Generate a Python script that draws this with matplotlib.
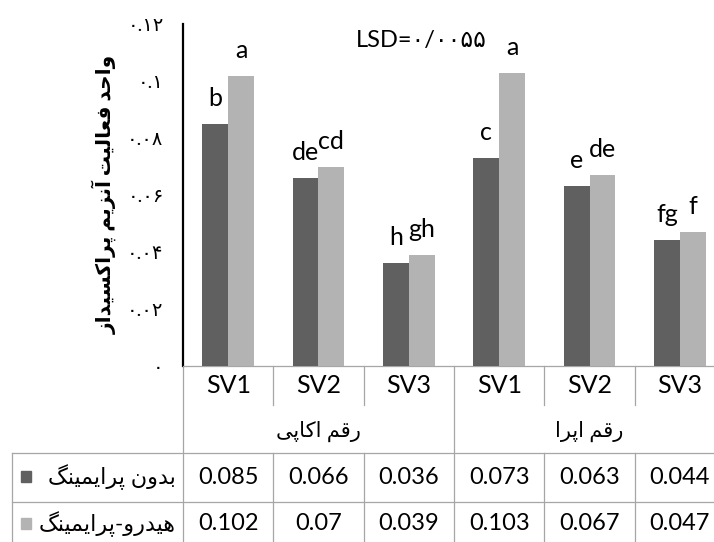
import numpy as np
import matplotlib.pyplot as plt

# values
sv_labels = ['SV1', 'SV2', 'SV3', 'SV1', 'SV2', 'SV3']
cultivars = ['رقم اکاپی', 'رقم اپرا']
series_names = ['بدون پرایمینگ', 'هیدرو-پرایمینگ']
no_priming = [0.085, 0.066, 0.036, 0.073, 0.063, 0.044]
hydro_priming = [0.102, 0.07, 0.039, 0.103, 0.067, 0.047]
letters_no = ['b', 'de', 'h', 'c', 'e', 'fg']
letters_hydro = ['a', 'cd', 'gh', 'a', 'de', 'f']
ytick_vals = [0, 0.02, 0.04, 0.06, 0.08, 0.1, 0.12]
ytick_labels = ['۰', '۰.۰۲', '۰.۰۴', '۰.۰۶', '۰.۰۸', '۰.۱', '۰.۱۲']
ylabel = 'واحد فعالیت آنزیم پراکسیداز'
lsd_text = 'LSD=۰/۰۰۵۵'

colors = ['#606060', '#b3b3b3']
grid_col = '#a6a6a6'

# matplotlib has no arabic shaping, so pick presentation forms by hand
FORMS = {
    'ا': '\ufe8d\ufe8e', 'آ': '\ufe81\ufe82', 'د': '\ufea9\ufeaa',
    'ر': '\ufead\ufeae', 'ز': '\ufeaf\ufeb0', 'و': '\ufeed\ufeee',
    'ب': '\ufe8f\ufe90\ufe91\ufe92', 'پ': '\ufb56\ufb57\ufb58\ufb59',
    'ت': '\ufe95\ufe96\ufe97\ufe98', 'ح': '\ufea1\ufea2\ufea3\ufea4',
    'س': '\ufeb1\ufeb2\ufeb3\ufeb4', 'ع': '\ufec9\ufeca\ufecb\ufecc',
    'ف': '\ufed1\ufed2\ufed3\ufed4', 'ق': '\ufed5\ufed6\ufed7\ufed8',
    'ک': '\ufb8e\ufb8f\ufb90\ufb91', 'گ': '\ufb92\ufb93\ufb94\ufb95',
    'ل': '\ufedd\ufede\ufedf\ufee0', 'م': '\ufee1\ufee2\ufee3\ufee4',
    'ن': '\ufee5\ufee6\ufee7\ufee8', 'ه': '\ufee9\ufeea\ufeeb\ufeec',
    'ی': '\ufbfc\ufbfd\ufbfe\ufbff',
}


def rtl(text):
    out = []
    for i, ch in enumerate(text):
        f = FORMS.get(ch)
        if f is None:
            out.append(ch)
            continue
        prev = text[i - 1] if i > 0 else ''
        nxt = text[i + 1] if i + 1 < len(text) else ''
        after = len(FORMS.get(prev, '')) == 4
        before = len(f) == 4 and nxt in FORMS
        if after and before:
            out.append(f[3])
        elif after:
            out.append(f[1])
        elif before:
            out.append(f[2])
        else:
            out.append(f[0])
    return ''.join(out[::-1])


plt.rcParams['font.family'] = ['Lato', 'DejaVu Sans']

W, H = 714, 542
fig = plt.figure(figsize=(W / 100, H / 100), dpi=100)

# plot area in pixels (extends past the right edge like the original)
left, right, top, bottom = 183, 725, 24.4, 365.6
ax = fig.add_axes([left / W, 1 - bottom / H, (right - left) / W, (bottom - top) / H])

x = np.arange(len(sv_labels))
w = 1 / 3.5
ax.bar(x - w / 2, no_priming, w, color=colors[0], zorder=3)
ax.bar(x + w / 2, hydro_priming, w, color=colors[1], zorder=3)

for xi, v, t in zip(x, no_priming, letters_no):
    ax.annotate(t, (xi - w / 2, v), xytext=(0, 13), textcoords='offset points',
                ha='center', va='baseline', fontsize=18, color='black')
for xi, v, t in zip(x, hydro_priming, letters_hydro):
    ax.annotate(t, (xi + w / 2, v), xytext=(0, 13), textcoords='offset points',
                ha='center', va='baseline', fontsize=18, color='black')

ax.set_xlim(-0.5, len(sv_labels) - 0.5)
ax.set_ylim(0, 0.12)
ax.set_xticks([])
ax.set_yticks(ytick_vals)
ax.set_yticklabels(ytick_labels, fontsize=14)
ax.tick_params(axis='y', length=0, pad=14)
for s in ['top', 'right']:
    ax.spines[s].set_visible(False)
ax.spines['left'].set_linewidth(1.6)
ax.spines['left'].set_color('black')
ax.spines['bottom'].set_color(grid_col)
ax.spines['bottom'].set_linewidth(0.9)
ax.patch.set_alpha(0)

ax.text(0.44, 0.985, lsd_text, transform=ax.transAxes, ha='center', va='top', fontsize=17)

fig.text(104 / W, 1 - 194 / H, rtl(ylabel), rotation=90, ha='center', va='center',
         fontsize=14.5, fontweight='bold')

# data table under the chart, drawn in pixel coordinates
tab = fig.add_axes([0, 0, 1, 1], zorder=-1)
tab.set_xlim(0, W)
tab.set_ylim(H, 0)
tab.axis('off')

col_w = (right - left) / len(sv_labels)
edges = [left + i * col_w for i in range(len(sv_labels) + 1)]
centers = [left + (i + 0.5) * col_w for i in range(len(sv_labels))]
row1_top, row2_top = 452.7, 501.5
sv_bot = 405
lw = 0.9

tab.plot([left, left], [bottom, H], color=grid_col, lw=lw)
tab.plot([edges[3], edges[3]], [bottom, H], color=grid_col, lw=lw)
for i in [1, 2, 4, 5]:
    tab.plot([edges[i], edges[i]], [bottom, sv_bot], color=grid_col, lw=lw)
    tab.plot([edges[i], edges[i]], [row1_top, H], color=grid_col, lw=lw)
for yy in [row1_top, row2_top]:
    tab.plot([11.7, right], [yy, yy], color=grid_col, lw=lw)
tab.plot([11.7, 11.7], [row1_top, H], color=grid_col, lw=lw)

for cx, lab in zip(centers, sv_labels):
    tab.text(cx, 385.5, lab, ha='center', va='center', fontsize=18)
for g, name in enumerate(cultivars):
    gx = (edges[3 * g] + edges[3 * g + 3]) / 2
    tab.text(gx, 431, rtl(name), ha='center', va='center', fontsize=15)

rows = [no_priming, hydro_priming]
row_mid = [(row1_top + row2_top) / 2, 524]
for r, vals in enumerate(rows):
    for cx, v in zip(centers, vals):
        tab.text(cx, row_mid[r], f'{v:g}', ha='center', va='center', fontsize=17)
    tab.add_patch(plt.Rectangle((21, row_mid[r] - 6), 10, 11, color=colors[r]))
    tab.text(176, row_mid[r], rtl(series_names[r]), ha='right', va='center', fontsize=16)

fig.savefig('out.png', dpi=100)
